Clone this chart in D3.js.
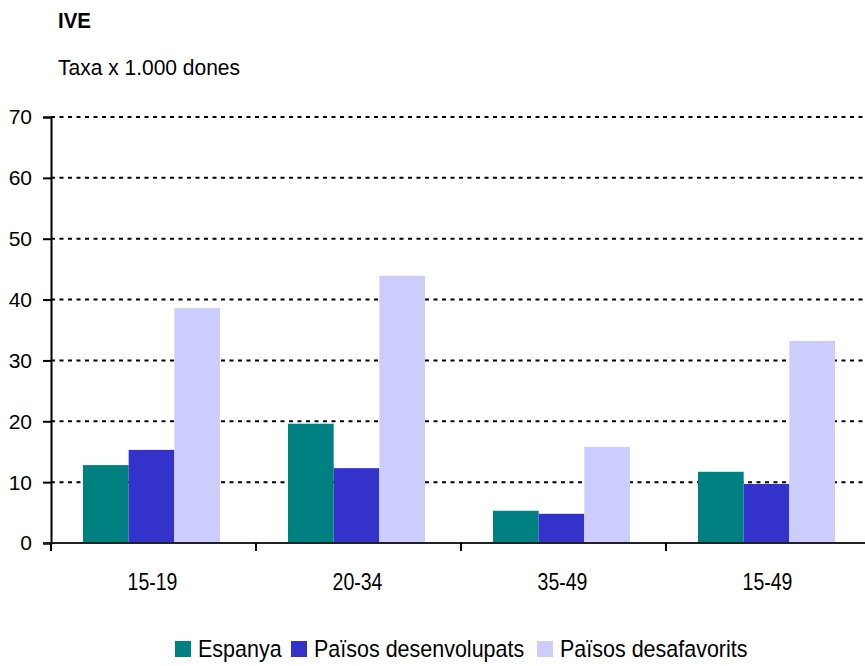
<!DOCTYPE html>
<html lang="ca">
<head>
<meta charset="UTF-8">
<title>IVE</title>
<script src="https://d3js.org/d3.v7.min.js"></script>
<style>
    body { margin: 0; background: #fff; }
    svg { display: block; }
    text { font-family: "Liberation Sans", Arial, sans-serif; fill: #000; }
    .grid line { stroke: #000; stroke-width: 2px; stroke-dasharray: 4,4.5; }
</style>
</head>
<body>
<svg id="chart" width="865" height="666"></svg>
<script>
    const categories = ["15-19", "20-34", "35-49", "15-49"];
    const seriesNames = ["Espanya", "Països desenvolupats", "Països desafavorits"];
    const espanya = [12.8, 19.6, 5.3, 11.7];
    const desenvolupats = [15.3, 12.3, 4.8, 9.7];
    const desafavorits = [38.6, 43.9, 15.8, 33.2];
    const yTicks = [0, 10, 20, 30, 40, 50, 60, 70];
    const colors = ["#008080", "#3333cc", "#ccccff"];

    const series = [espanya, desenvolupats, desafavorits];

    const svg = d3.select("#chart");
    const plotLeft = 51, plotRight = 871, plotTop = 117, plotBottom = 543;

    // one band per category, no padding: band edges are the x tick marks
    const x = d3.scaleBand()
        .domain(categories)
        .range([plotLeft, plotRight]);

    // bars sit slightly left of the band centre, like the original
    const xSub = d3.scaleBand()
        .domain(seriesNames)
        .range([32, 169]);

    const y = d3.scaleLinear()
        .domain([0, 70])
        .range([plotBottom, plotTop]);

    // text with a vertical stretch (the source font is a tall, narrow one)
    function stretchedText(sel, xPos, yPos, size, sy) {
        return sel.append("text")
            .attr("transform", `translate(${xPos},${yPos}) scale(1,${sy})`)
            .style("font-size", size + "px");
    }

    // titles
    stretchedText(svg, 58, 28, 20.5, 1.07)
        .style("font-weight", "bold")
        .text("IVE");
    stretchedText(svg, 58, 75, 21, 1.05)
        .text("Taxa x 1.000 dones");

    // dashed grid
    svg.append("g")
        .attr("class", "grid")
        .selectAll("line")
        .data(yTicks.filter(d => d > 0))
        .join("line")
        .attr("x1", plotLeft).attr("x2", 865)
        .attr("y1", d => y(d)).attr("y2", d => y(d));

    // bars
    const groups = svg.append("g")
        .selectAll("g")
        .data(categories)
        .join("g")
        .attr("transform", d => `translate(${x(d)},0)`);

    groups.selectAll("rect")
        .data((c, i) => series.map((s, k) => ({ name: seriesNames[k], value: s[i], color: colors[k] })))
        .join("rect")
        .attr("x", d => xSub(d.name))
        .attr("width", xSub.bandwidth())
        .attr("y", d => y(d.value))
        .attr("height", d => y(0) - y(d.value))
        .attr("fill", d => d.color);

    // y axis
    const yAxis = svg.append("g")
        .attr("transform", `translate(${plotLeft},0)`)
        .call(d3.axisLeft(y).tickValues(yTicks).tickSize(8).tickPadding(11));
    yAxis.select(".domain").attr("stroke", "#000").attr("stroke-width", 2);
    yAxis.selectAll(".tick line").attr("stroke", "#000").attr("stroke-width", 2);
    yAxis.selectAll("text")
        .style("font-size", "21px")
        .attr("dy", "0.33em");

    // x axis
    const xAxis = svg.append("g");
    xAxis.append("line")
        .attr("x1", plotLeft - 8).attr("x2", 865)
        .attr("y1", plotBottom).attr("y2", plotBottom)
        .attr("stroke", "#222").attr("stroke-width", 2);
    xAxis.selectAll(".xt")
        .data(categories.map(c => x(c)).concat([plotRight]))
        .join("line")
        .attr("class", "xt")
        .attr("x1", d => d).attr("x2", d => d)
        .attr("y1", plotBottom).attr("y2", plotBottom + 8)
        .attr("stroke", "#000").attr("stroke-width", 2);
    categories.forEach(c => {
        stretchedText(xAxis, x(c) + x.bandwidth() / 2 - 1, 590, 19.5, 1.27)
            .attr("text-anchor", "middle")
            .text(c);
    });

    // legend
    const legendX = [175, 291, 537];
    const legend = svg.append("g")
        .selectAll("g")
        .data(seriesNames)
        .join("g")
        .attr("transform", (d, i) => `translate(${legendX[i]},641)`);
    legend.append("rect")
        .attr("width", 16).attr("height", 16)
        .attr("fill", (d, i) => colors[i]);
    legend.each(function (d) {
        stretchedText(d3.select(this), 23, 16, 21.5, 1.08).text(d);
    });
</script>
</body>
</html>
